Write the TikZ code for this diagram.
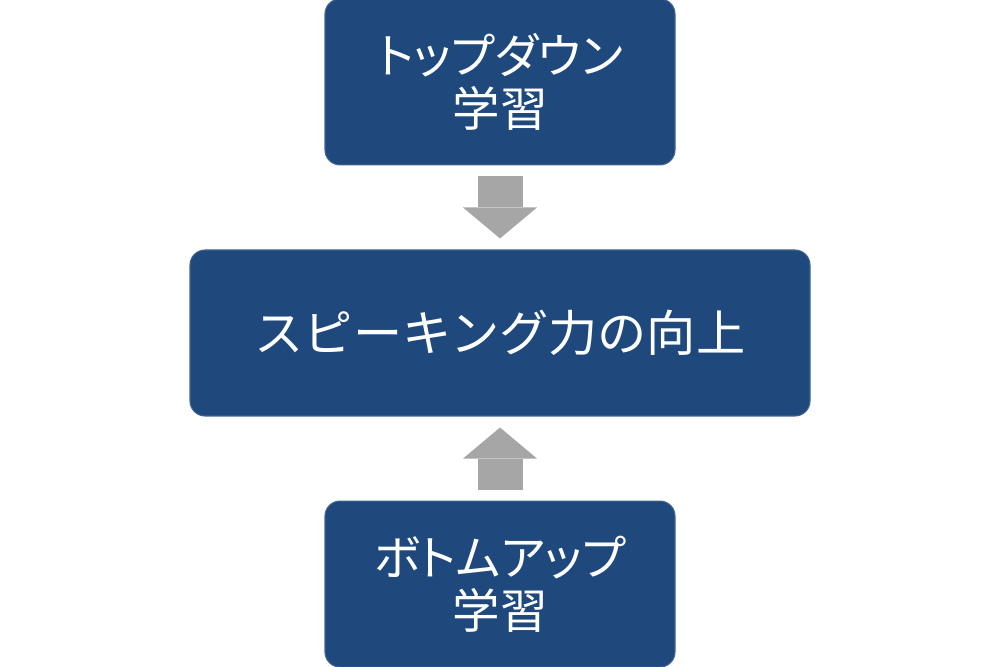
\documentclass[tikz,border=0pt]{standalone}
\usepackage{fontspec}
\newfontfamily\jpfont[RawFeature=+palt]{Noto Sans CJK JP}
\newfontfamily\jpfontwide{Noto Sans CJK JP}
\usetikzlibrary{positioning,arrows.meta}
\definecolor{boxblue}{RGB}{31,73,125}
\definecolor{arrowgray}{RGB}{166,166,166}

\begin{document}
\begin{tikzpicture}[
    box/.style={rectangle, rounded corners=0.3cm, fill=boxblue, draw=boxblue!85!white,
        line width=0.6pt, text=white, align=center, inner sep=0pt,
        minimum height=3.32cm, font=\jpfont\fontsize{27}{30}\selectfont},
    blockarrow/.style={draw=arrowgray, line width=0.9cm,
        shorten <=0.22cm, shorten >=0.22cm,
        -{Triangle[width=1.48cm, length=0.62cm, line width=0pt, fill=arrowgray]}}
]
    %%%%% START %%%%%
    \useasboundingbox (0,0) rectangle (20,13.34);

    \node[box, minimum width=12.4cm, font=\jpfontwide\fontsize{28}{30}\selectfont] (speaking) at (10,6.68) {スピーキング力の向上};
    \node[box, minimum width=7cm, above=1.68cm of speaking] (topdown) {トップダウン\\学習};
    \node[box, minimum width=7cm, below=1.68cm of speaking] (bottomup) {ボトムアップ\\学習};

    \draw[blockarrow] (topdown) -- (speaking);
    \draw[blockarrow] (bottomup) -- (speaking);
    %%%%% END %%%%%
\end{tikzpicture}
\end{document}
